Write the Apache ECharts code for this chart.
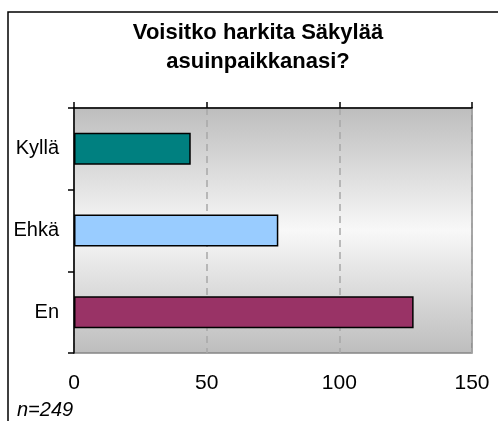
<!DOCTYPE html>
<html>
<head>
<meta charset="utf-8">
<script src="https://cdn.jsdelivr.net/npm/echarts@6/dist/echarts.min.js"></script>
<style>
  html, body { margin: 0; padding: 0; background: #fff; }
  #barChart { width: 498px; height: 421px; }
</style>
</head>
<body>
<div id="barChart"></div>
<script>
// data
var titleLines = ['Voisitko harkita Säkylää', 'asuinpaikkanasi?']
var categories = ['Kyllä', 'Ehkä', 'En']
var answers = [44, 77, 128]
var sampleNote = 'n=249'
var axisMin = 0
var axisMax = 150
var axisStep = 50

var font = '"Liberation Sans", Arial, sans-serif'
var barColors = ['#008080', '#99ccff', '#993366']

var myChart = echarts.init(document.getElementById('barChart'))

var options = {
  backgroundColor: '#fff',
  animation: false,
  grid: {
    left: 74,
    top: 108,
    right: 26,
    bottom: 68,
    show: true,
    // plot area fill, grey - light - grey
    backgroundColor: new echarts.graphic.LinearGradient(0, 0, 0, 1, [
      { offset: 0, color: '#bdbdbd' },
      { offset: 0.5, color: '#f8f8f8' },
      { offset: 1, color: '#bdbdbd' }
    ]),
    borderColor: '#858585',
    borderWidth: 1.5
  },
  xAxis: [
    {
      // line + ticks sit on top of the plot
      type: 'value',
      position: 'top',
      min: axisMin,
      max: axisMax,
      interval: axisStep,
      axisLine: { show: true, lineStyle: { color: '#000', width: 1.5 } },
      axisTick: { show: true, length: 6, lineStyle: { color: '#000', width: 1.5 } },
      axisLabel: { show: false },
      splitLine: {
        show: true,
        lineStyle: { color: '#a8a8a8', width: 1.5, type: [7, 5] }
      }
    },
    {
      // labels are shown below
      type: 'value',
      position: 'bottom',
      min: axisMin,
      max: axisMax,
      interval: axisStep,
      axisLine: { show: false },
      axisTick: { show: false },
      splitLine: { show: false },
      axisLabel: {
        margin: 20,
        color: '#000',
        fontSize: 21,
        fontFamily: font
      }
    }
  ],
  yAxis: {
    type: 'category',
    inverse: true,
    data: categories,
    axisLine: { show: true, lineStyle: { color: '#000', width: 1.5 } },
    axisTick: { show: true, length: 6, lineStyle: { color: '#000', width: 1.5 } },
    axisLabel: {
      margin: 15,
      color: '#000',
      fontSize: 20,
      fontFamily: font
    }
  },
  series: [
    {
      type: 'bar',
      xAxisIndex: 0,
      barWidth: 32,
      data: answers.map(function (v, i) {
        return {
          value: v,
          itemStyle: { color: barColors[i], borderColor: '#000', borderWidth: 1.5 }
        }
      })
    }
  ],
  graphic: [
    {
      // chart frame (cut off at right and bottom)
      type: 'rect',
      z: -1,
      shape: { x: 8, y: 12, width: 600, height: 600 },
      style: { fill: 'none', stroke: '#000', lineWidth: 1.5 }
    },
    {
      type: 'text',
      x: 258,
      y: 44,
      style: {
        text: titleLines[0],
        fill: '#000',
        font: 'bold 22px ' + font,
        textAlign: 'center',
        textVerticalAlign: 'bottom'
      }
    },
    {
      type: 'text',
      x: 258,
      y: 73,
      style: {
        text: titleLines[1],
        fill: '#000',
        font: 'bold 22px ' + font,
        textAlign: 'center',
        textVerticalAlign: 'bottom'
      }
    },
    {
      type: 'text',
      x: 17,
      y: 420,
      style: {
        text: sampleNote,
        fill: '#000',
        font: 'italic 20px ' + font,
        textAlign: 'left',
        textVerticalAlign: 'bottom'
      }
    }
  ]
}

myChart.setOption(options)
</script>
</body>
</html>
